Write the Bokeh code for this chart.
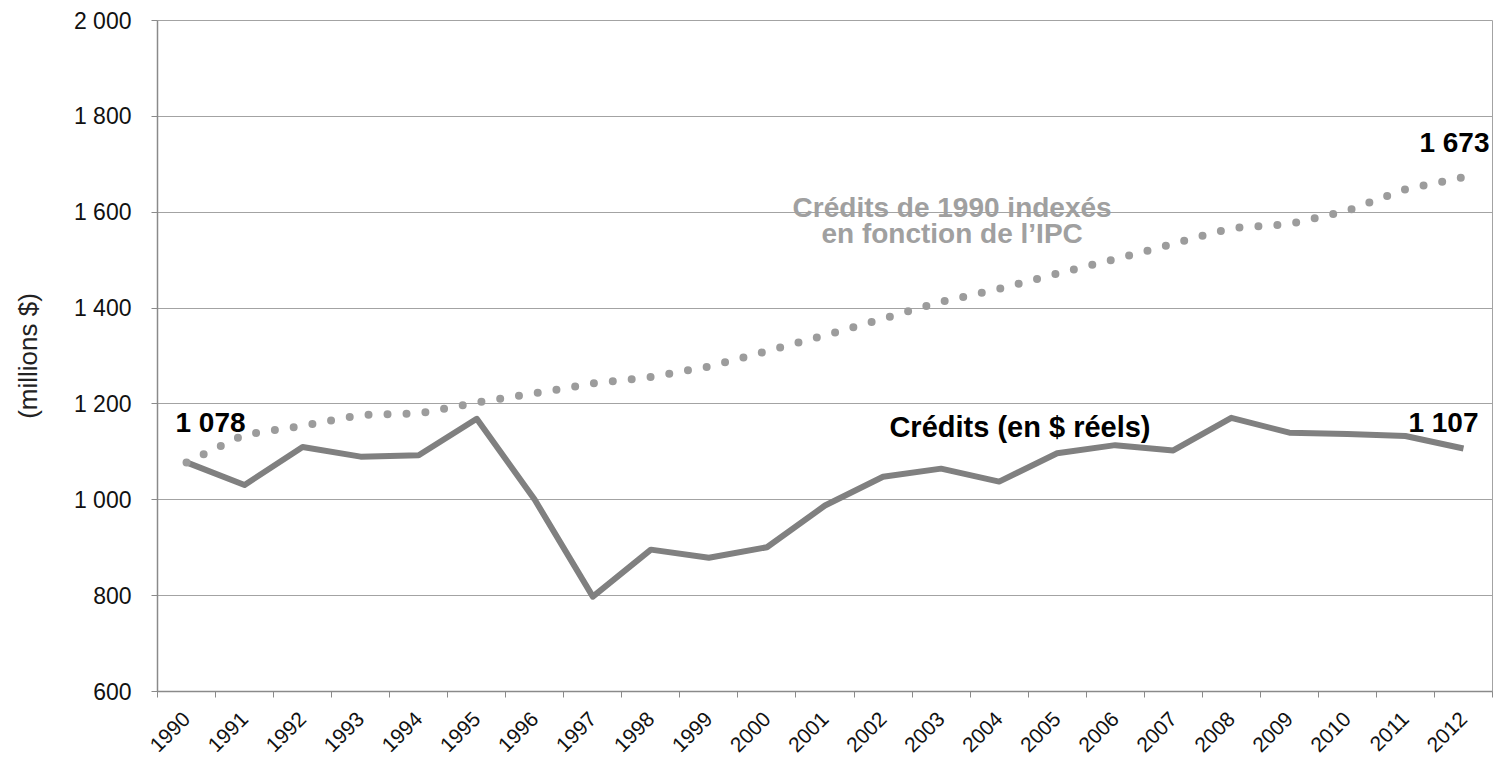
import math
from bokeh.plotting import figure
from bokeh.models import Range1d, FixedTicker
from bokeh.core.properties import value
from bokeh.embed import file_html
from bokeh.resources import INLINE

# ---- data ----
years = [1990, 1991, 1992, 1993, 1994, 1995, 1996, 1997, 1998, 1999, 2000, 2001,
         2002, 2003, 2004, 2005, 2006, 2007, 2008, 2009, 2010, 2011, 2012]
year_labels = [str(y) for y in years]
credits_reels = [1078, 1031, 1110, 1090, 1093, 1169, 1000, 798, 896, 879, 901, 988,
                 1048, 1065, 1038, 1097, 1114, 1103, 1171, 1140, 1137, 1133, 1107]
credits_indexes = [1078, 1136, 1154, 1177, 1180, 1203, 1222, 1243, 1256, 1278, 1310, 1343,
                   1378, 1413, 1440, 1472, 1502, 1534, 1567, 1575, 1603, 1648, 1673]
y_ticks = [600, 800, 1000, 1200, 1400, 1600, 1800, 2000]
y_tick_labels = ["600", "800", "1 000", "1 200", "1 400", "1 600", "1 800", "2 000"]
end_labels_reels = ["1 078", "1 107"]
end_label_index = "1 673"
series_label_reels = "Crédits (en $ réels)"
series_label_index = ["Crédits de 1990 indexés", "en fonction de l’IPC"]
y_title = "(millions $)"

FONT = value("Liberation Sans")
GRID = "#a3a3a3"
AXIS = "#8a8a8a"

p = figure(width=1498, height=761, output_backend="svg", toolbar_location=None,
           x_range=Range1d(years[0] - 0.5, years[-1] + 0.5),
           y_range=Range1d(y_ticks[0], y_ticks[-1]),
           min_border_left=157, min_border_right=6, min_border_top=20, min_border_bottom=40)
p.background_fill_color = "white"
p.border_fill_color = "white"
p.outline_line_color = GRID
p.outline_line_width = 1

# x axis: labels at category centres, tick marks between categories
boundaries = [y - 0.5 for y in years] + [years[-1] + 0.5]
p.xaxis.ticker = FixedTicker(ticks=years, minor_ticks=boundaries)
p.xaxis.major_label_overrides = {y: l for y, l in zip(years, year_labels)}
p.xaxis.major_label_orientation = math.pi / 4
p.xaxis.major_tick_line_color = None
p.xaxis.major_tick_out = 0
p.xaxis.major_tick_in = 0
p.xaxis.minor_tick_out = 6
p.xaxis.minor_tick_in = 0
p.xaxis.minor_tick_line_color = AXIS
p.xaxis.axis_line_color = AXIS
p.xaxis.axis_line_width = 1.5
p.xaxis.major_label_text_font = "Liberation Sans"
p.xaxis.major_label_text_font_size = "21px"
p.xaxis.major_label_text_color = "#111111"
p.xaxis.major_label_standoff = 18
p.xgrid.visible = False

# y axis
p.yaxis.ticker = FixedTicker(ticks=y_ticks, minor_ticks=[])
p.yaxis.major_label_overrides = {t: l for t, l in zip(y_ticks, y_tick_labels)}
p.yaxis.major_tick_out = 6
p.yaxis.major_tick_in = 0
p.yaxis.major_tick_line_color = AXIS
p.yaxis.minor_tick_line_color = None
p.yaxis.axis_line_color = AXIS
p.yaxis.axis_line_width = 1.5
p.yaxis.major_label_text_font = "Liberation Sans"
p.yaxis.major_label_text_font_size = "23px"
p.yaxis.major_label_text_color = "#111111"
p.yaxis.major_label_standoff = 20
p.yaxis.axis_label = y_title
p.yaxis.axis_label_text_font = "Liberation Sans"
p.yaxis.axis_label_text_font_size = "26px"
p.yaxis.axis_label_text_font_style = "normal"
p.yaxis.axis_label_text_color = "#222222"
p.yaxis.axis_label_standoff = 28
p.ygrid.ticker = FixedTicker(ticks=y_ticks)
p.ygrid.grid_line_color = GRID
p.ygrid.grid_line_width = 1

# series
p.line(years, credits_reels, line_color="#808080", line_width=6, line_join="round")
p.line(years, credits_indexes, line_color="#9c9c9c", line_width=8,
       line_dash="0 19", line_cap="round")

# value labels
p.text(x=[years[0]], y=[credits_reels[0]], text=[end_labels_reels[0]],
       text_font=FONT, text_font_size="28px", text_font_style="bold",
       text_color="black", text_align="left", text_baseline="alphabetic",
       x_offset=-11, y_offset=-40)
p.text(x=[years[-1]], y=[credits_reels[-1]], text=[end_labels_reels[1]],
       text_font=FONT, text_font_size="28px", text_font_style="bold",
       text_color="black", text_align="right", text_baseline="alphabetic",
       x_offset=15, y_offset=-26)
p.text(x=[years[-1]], y=[credits_indexes[-1]], text=[end_label_index],
       text_font=FONT, text_font_size="28px", text_font_style="bold",
       text_color="black", text_align="right", text_baseline="alphabetic",
       x_offset=26, y_offset=-35)

# series labels
p.text(x=[2002.11], y=[1133], text=[series_label_reels],
       text_font=FONT, text_font_size="29px", text_font_style="bold",
       text_color="black", text_align="left", text_baseline="alphabetic",
       y_offset=-9)
p.text(x=[2003.19, 2003.19], y=[1592, 1537], text=series_label_index,
       text_font=FONT, text_font_size="28px", text_font_style="bold",
       text_color="#a0a0a0", text_align="center", text_baseline="alphabetic",
       y_offset=-9)

open("out.html", "w").write(file_html(p, INLINE))
